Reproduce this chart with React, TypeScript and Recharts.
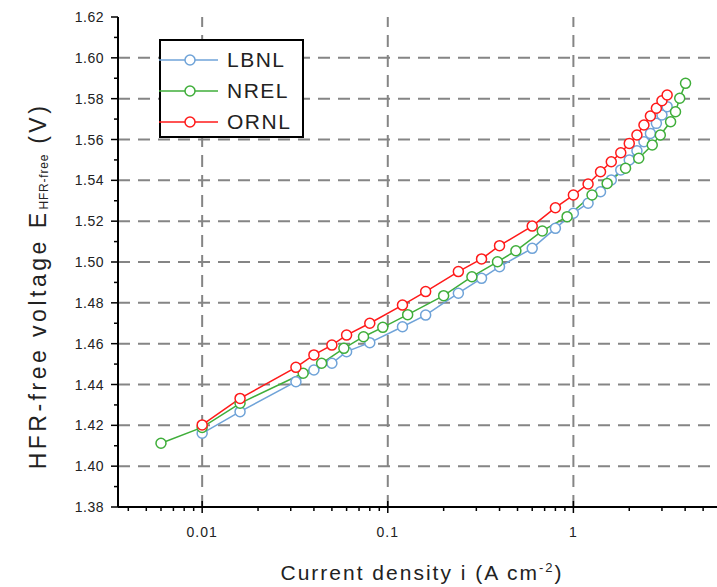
import React from 'react'
import { LineChart, Line, XAxis, YAxis, ReferenceLine } from 'recharts'

// current density (A cm-2) and HFR-free voltage (V)
const LBNL_I = [0.01, 0.016, 0.032, 0.04, 0.05, 0.06, 0.08, 0.12, 0.16, 0.24, 0.32, 0.4, 0.6, 0.8, 1, 1.2, 1.4, 1.6, 1.8, 2, 2.2, 2.4, 2.6, 2.8, 3, 3.2]
const LBNL_V = [1.4161, 1.4267, 1.4414, 1.4471, 1.4504, 1.4561, 1.4605, 1.4683, 1.474, 1.4847, 1.492, 1.4977, 1.5067, 1.5165, 1.5239, 1.5288, 1.5344, 1.5402, 1.5451, 1.55, 1.5545, 1.5589, 1.563, 1.5679, 1.572, 1.5761]

const NREL_I = [0.006, 0.01, 0.016, 0.035, 0.044, 0.058, 0.074, 0.094, 0.128, 0.2, 0.284, 0.39, 0.49, 0.68, 0.925, 1.26, 1.52, 1.91, 2.25, 2.66, 2.94, 3.34, 3.55, 3.74, 4.02]
const NREL_V = [1.4112, 1.419, 1.4308, 1.4455, 1.4504, 1.4577, 1.4634, 1.468, 1.4742, 1.4835, 1.4928, 1.5001, 1.5055, 1.5152, 1.5222, 1.5328, 1.5385, 1.5459, 1.5508, 1.5573, 1.5622, 1.5687, 1.5736, 1.5802, 1.5875]

const ORNL_I = [0.01, 0.016, 0.032, 0.04, 0.05, 0.06, 0.08, 0.12, 0.16, 0.24, 0.32, 0.4, 0.6, 0.8, 1, 1.2, 1.4, 1.6, 1.8, 2, 2.2, 2.4, 2.6, 2.8, 3, 3.2]
const ORNL_V = [1.4202, 1.4332, 1.4484, 1.4545, 1.4593, 1.4642, 1.47, 1.4789, 1.4855, 1.4953, 1.5015, 1.508, 1.5176, 1.5266, 1.5328, 1.5382, 1.5442, 1.5491, 1.5535, 1.5581, 1.5622, 1.5671, 1.5715, 1.5753, 1.579, 1.5818]

const X_LABELLED = [0.01, 0.1, 1]
const X_MAJOR = [0.01, 0.1, 1, 10]
const X_MINOR = [0.004, 0.005, 0.006, 0.007, 0.008, 0.009, 0.02, 0.03, 0.04, 0.05, 0.06, 0.07, 0.08, 0.09, 0.2, 0.3, 0.4, 0.5, 0.6, 0.7, 0.8, 0.9, 2, 3, 4, 5, 6, 7, 8, 9]
const Y_MAJOR = [1.38, 1.40, 1.42, 1.44, 1.46, 1.48, 1.50, 1.52, 1.54, 1.56, 1.58, 1.60, 1.62]
const Y_MINOR = [1.39, 1.41, 1.43, 1.45, 1.47, 1.49, 1.51, 1.53, 1.55, 1.57, 1.59, 1.61]
const Y_GRID = [1.40, 1.42, 1.44, 1.46, 1.48, 1.50, 1.52, 1.54, 1.56, 1.58, 1.60]

const SERIES = [
  { name: 'LBNL', color: '#6fa3d8', data: LBNL_I.map((i, k) => ({ i, v: LBNL_V[k] })) },
  { name: 'NREL', color: '#3fae3a', data: NREL_I.map((i, k) => ({ i, v: NREL_V[k] })) },
  { name: 'ORNL', color: '#ff1a1a', data: ORNL_I.map((i, k) => ({ i, v: ORNL_V[k] })) },
]

const FONT = '"Liberation Sans", Arial, sans-serif'
const TXT = '#222'

const near = (list: number[], v: number) => list.some(m => Math.abs(m - v) < 1e-9)
const isMajorY = (v: number) => Math.round(v * 100) % 2 === 0

function BottomTick({ x, y, payload }: any) {
  const major = near(X_MAJOR, payload.value)
  return (
    <g>
      <line x1={x} x2={x} y1={major ? y - 6 : y} y2={y + (major ? 6 : 4)} stroke="#000" strokeWidth={1.5} />
      {near(X_LABELLED, payload.value) && (
        <text x={x} y={y + 30} textAnchor="middle" fontFamily={FONT} fontSize={14} letterSpacing={1} fill={TXT}>
          {String(payload.value)}
        </text>
      )}
    </g>
  )
}

function TopTick({ x, y, payload }: any) {
  const major = near(X_MAJOR, payload.value)
  return <line x1={x} x2={x} y1={y} y2={y + (major ? 8 : 4)} stroke="#000" strokeWidth={1.5} />
}

function LeftTick({ x, y, payload }: any) {
  const major = isMajorY(payload.value)
  return (
    <g>
      <line x1={x - (major ? 7 : 4)} x2={x} y1={y} y2={y} stroke="#000" strokeWidth={1.5} />
      {major && (
        <text x={x - 14} y={y + 5} textAnchor="end" fontFamily={FONT} fontSize={14} letterSpacing={0.5} fill={TXT}>
          {payload.value.toFixed(2)}
        </text>
      )}
    </g>
  )
}

function XLabel({ viewBox }: any) {
  return (
    <text x={422} y={viewBox.y + 73} textAnchor="middle" fontFamily={FONT} fontSize={21} letterSpacing={2} fill={TXT}>
      Current density i (A cm<tspan fontSize={13} dy={-8}>-2</tspan><tspan dy={8}>)</tspan>
    </text>
  )
}

function YLabel({ viewBox }: any) {
  const cx = viewBox.x + 40
  const cy = viewBox.y + viewBox.height / 2 + 24
  return (
    <text x={cx} y={cy} transform={`rotate(-90 ${cx} ${cy})`} textAnchor="middle" dominantBaseline="middle"
      fontFamily={FONT} fontSize={23} letterSpacing={3.5} fill={TXT}>
      HFR-free voltage E<tspan fontSize={12} dy={5} letterSpacing={0.8}>HFR-free</tspan><tspan dy={-5}> (V)</tspan>
    </text>
  )
}

function LegendBox() {
  return (
    <div style={{ position: 'absolute', left: 159, top: 39, boxSizing: 'border-box', width: 145, height: 99, border: '2px solid #000', background: '#fff', paddingTop: 3 }}>
      {SERIES.map(s => (
        <div key={s.name} style={{ display: 'flex', alignItems: 'center', height: 31 }}>
          <svg width={66} height={14} style={{ marginLeft: -2 }}>
            <line x1={0} x2={59} y1={7} y2={7} stroke={s.color} strokeWidth={1.5} />
            <circle cx={31} cy={7} r={5} fill="#fff" stroke={s.color} strokeWidth={1.5} />
          </svg>
          <span style={{ fontFamily: FONT, fontSize: 21, letterSpacing: 1.5, color: TXT, marginLeft: 2 }}>{s.name}</span>
        </div>
      ))}
    </div>
  )
}

export default function App() {
  const xTicks = [...X_MINOR, ...X_MAJOR].sort((a, b) => a - b)
  return (
    <div style={{ position: 'fixed', left: 0, top: 0, width: 717, height: 587, overflow: 'hidden', background: '#fff' }}>
      <LineChart width={800} height={587} margin={{ top: 17, right: 41, left: 0, bottom: 0 }}>
        <XAxis
          type="number" dataKey="i" scale="log" domain={[0.00352, 10]} allowDataOverflow
          ticks={xTicks} interval={0}
          height={80} tickSize={0} tickMargin={0} tickLine={false}
          axisLine={{ stroke: '#000', strokeWidth: 2 }} tick={<BottomTick />} label={<XLabel />}
        />
        <XAxis
          xAxisId="top" orientation="top" type="number" dataKey="i" scale="log" domain={[0.00352, 10]} allowDataOverflow
          ticks={xTicks} interval={0}
          height={0} tickSize={0} tickMargin={0} tickLine={false}
          axisLine={{ stroke: '#000', strokeWidth: 2 }} tick={<TopTick />}
        />
        <YAxis
          type="number" domain={[1.38, 1.62]} ticks={[...Y_MAJOR, ...Y_MINOR].sort((a, b) => a - b)} interval={0}
          width={118} tickSize={0} tickMargin={0} tickLine={false}
          axisLine={{ stroke: '#000', strokeWidth: 2 }} tick={<LeftTick />} label={<YLabel />}
        />
        {Y_GRID.map(v => (
          <ReferenceLine key={`gy${v}`} y={v} stroke="#858585" strokeWidth={2} strokeDasharray="12 8" />
        ))}
        {X_MAJOR.map(v => (
          <ReferenceLine key={`gx${v}`} x={v} stroke="#858585" strokeWidth={2} strokeDasharray="12 8" />
        ))}
        {SERIES.map(s => (
          <Line
            key={s.name} data={s.data} dataKey="v" name={s.name} type="linear"
            stroke={s.color} strokeWidth={1.5} isAnimationActive={false}
            dot={{ r: 5, fill: '#fff', stroke: s.color, strokeWidth: 1.5 }}
          />
        ))}
      </LineChart>
      <LegendBox />
    </div>
  )
}
